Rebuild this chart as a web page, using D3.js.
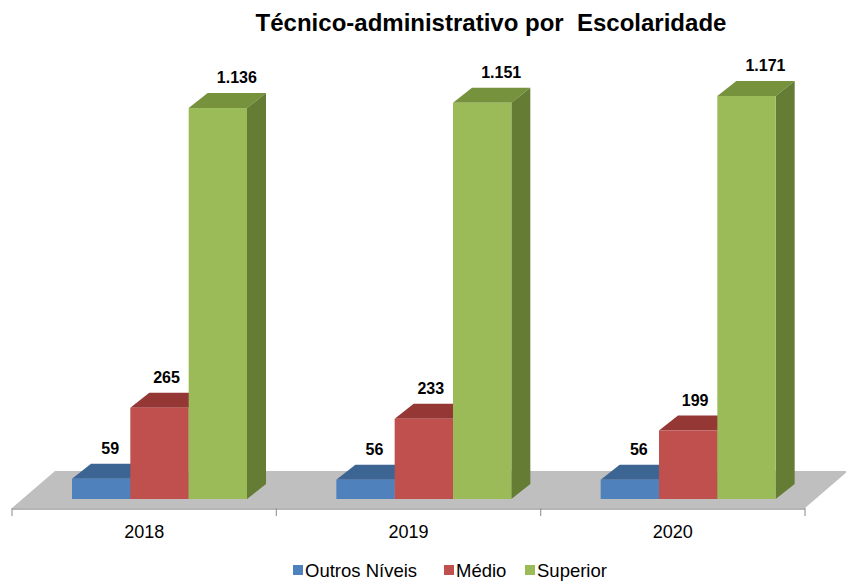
<!DOCTYPE html>
<html>
<head>
<meta charset="utf-8">
<script src="https://cdn.jsdelivr.net/npm/d3@7"></script>
<style>
  body { margin: 0; background: #fff; }
  text { font-family: "Liberation Sans", Arial, sans-serif; }
</style>
</head>
<body>
<div id="chart"></div>
<script>
/* 3D column chart */

const width = 846,
    height = 581;

/* data */
const years = ["2018", "2019", "2020"];
const series = ["Outros Níveis", "Médio", "Superior"];
const outros = [59, 56, 56];
const medio = [265, 233, 199];
const superior = [1136, 1151, 1171];
const valueLabels = [
    ["59", "56", "56"],
    ["265", "233", "199"],
    ["1.136", "1.151", "1.171"]
];

const values = [outros, medio, superior];

/* colours: front, top, side */
const colors = [
    { front: "#4f81bd", top: "#3d6594", side: "#34577f" },
    { front: "#c0504d", top: "#943735", side: "#7f2f2d" },
    { front: "#9bbb59", top: "#77923d", side: "#647c33" }
];

const depth = { dx: 19, dy: -15 };
const floorDepth = { dx: 43, dy: -37 };

const svg = d3.select("#chart")
    .append("svg")
    .attr("width", width)
    .attr("height", height);

/* scales */
let x = d3.scaleBand()
    .domain(years)
    .range([12, 805])
    .padding(0);

let xs = d3.scaleBand()
    .domain(d3.range(series.length))
    .range([60, 235]);

let y = d3.scaleLinear()
    .domain([0, 1200])
    .range([499, 86]);

/* floor */
const floorY = 508;
const fx0 = x.range()[0], fx1 = x.range()[1];
svg.append("path")
    .attr("d", `M${fx0},${floorY} L${fx1},${floorY} L${fx1 + floorDepth.dx},${floorY + floorDepth.dy} L${fx0 + floorDepth.dx},${floorY + floorDepth.dy} Z`)
    .attr("fill", "#bfbfbf");

/* axis line and ticks at band edges */
svg.append("line")
    .attr("x1", fx0).attr("x2", fx1)
    .attr("y1", floorY + 1).attr("y2", floorY + 1)
    .attr("stroke", "#9c9c9c")
    .attr("stroke-width", 1.5);

const edges = years.map(d => x(d)).concat([fx1]);
svg.selectAll(".tick-line")
    .data(edges)
    .join("line")
    .attr("class", "tick-line")
    .attr("x1", d => d).attr("x2", d => d)
    .attr("y1", floorY).attr("y2", floorY + 8)
    .attr("stroke", "#9c9c9c")
    .attr("stroke-width", 1.2);

/* bars */
years.forEach((yr, i) => {
    series.forEach((s, j) => {
        const v = values[j][i];
        const x0 = x(yr) + xs(j);
        const x1 = x0 + xs.bandwidth();
        const yTop = y(v), yBot = y(0);
        const g = svg.append("g");
        const c = colors[j];
        /* top face */
        g.append("path")
            .attr("d", `M${x0},${yTop} L${x0 + depth.dx},${yTop + depth.dy} L${x1 + depth.dx},${yTop + depth.dy} L${x1},${yTop} Z`)
            .attr("fill", c.top);
        /* side face */
        g.append("path")
            .attr("d", `M${x1},${yTop} L${x1 + depth.dx},${yTop + depth.dy} L${x1 + depth.dx},${yBot + depth.dy} L${x1},${yBot} Z`)
            .attr("fill", c.side);
        /* front face */
        g.append("rect")
            .attr("x", x0)
            .attr("y", yTop)
            .attr("width", x1 - x0)
            .attr("height", yBot - yTop)
            .attr("fill", c.front);
    });
});

/* value labels */
const labelShift = [9, 7, 19];
years.forEach((yr, i) => {
    series.forEach((s, j) => {
        const v = values[j][i];
        svg.append("text")
            .attr("x", x(yr) + xs(j) + xs.bandwidth() / 2 + labelShift[j])
            .attr("y", y(v) + depth.dy - 10)
            .attr("text-anchor", "middle")
            .attr("font-size", 16)
            .attr("font-weight", "bold")
            .attr("fill", "#000")
            .text(valueLabels[j][i]);
    });
});

/* category labels */
svg.append("g")
    .selectAll("text")
    .data(years)
    .join("text")
    .attr("x", d => x(d) + x.bandwidth() / 2)
    .attr("y", 538)
    .attr("text-anchor", "middle")
    .attr("font-size", 18)
    .attr("fill", "#000")
    .text(d => d);

/* title */
svg.append("text")
    .attr("x", 491)
    .attr("y", 31)
    .attr("text-anchor", "middle")
    .attr("font-size", 24)
    .attr("font-weight", "bold")
    .attr("xml:space", "preserve")
    .style("white-space", "pre")
    .text("Técnico-administrativo por  Escolaridade");

/* legend */
const legendX = [293, 444, 525];
const legend = svg.append("g");
series.forEach((s, j) => {
    legend.append("rect")
        .attr("x", legendX[j])
        .attr("y", 565)
        .attr("width", 10)
        .attr("height", 10)
        .attr("fill", colors[j].front);
    legend.append("text")
        .attr("x", legendX[j] + 12)
        .attr("y", 577)
        .attr("font-size", 18.5)
        .attr("fill", "#000")
        .text(s);
});
</script>
</body>
</html>
